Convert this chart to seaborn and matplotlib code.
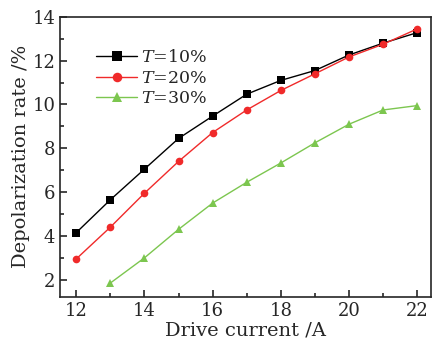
import matplotlib
matplotlib.use("Agg")
import matplotlib.pyplot as plt
import seaborn as sns
import pandas as pd
from matplotlib.ticker import MultipleLocator

current = [12, 13, 14, 15, 16, 17, 18, 19, 20, 21, 22]
t10 = [4.15, 5.65, 7.05, 8.45, 9.47, 10.47, 11.1, 11.55, 12.26, 12.8, 13.28]
t20 = [2.95, 4.4, 5.95, 7.4, 8.72, 9.75, 10.64, 11.4, 12.17, 12.75, 13.45]
current30 = [13, 14, 15, 16, 17, 18, 19, 20, 21, 22]
t30 = [1.85, 3.0, 4.3, 5.5, 6.45, 7.33, 8.25, 9.1, 9.75, 9.95]
labels = ["$T$=10%", "$T$=20%", "$T$=30%"]

sns.set_style("ticks")
plt.rcParams['font.family'] = ['DejaVu Serif']
plt.rcParams['mathtext.fontset'] = 'dejavuserif'

df = pd.concat([
    pd.DataFrame({"x": current, "y": t10, "s": labels[0]}),
    pd.DataFrame({"x": current, "y": t20, "s": labels[1]}),
    pd.DataFrame({"x": current30, "y": t30, "s": labels[2]}),
])

fig = plt.figure(figsize=(4.33, 3.44), dpi=100)
ax = fig.add_axes([0.139, 0.137, 0.856, 0.814])
palette = {labels[0]: "#000000", labels[1]: "#f02a2a", labels[2]: "#7cc64f"}
markers = {labels[0]: "s", labels[1]: "o", labels[2]: "^"}
sns.lineplot(data=df, x="x", y="y", hue="s", style="s", palette=palette,
             markers=markers, dashes=False, markersize=5.5, linewidth=1.0,
             markeredgewidth=0, ax=ax)

ax.set_xlim(11.53, 22.4)
ax.set_ylim(1.22, 14)
ax.xaxis.set_major_locator(MultipleLocator(2))
ax.xaxis.set_minor_locator(MultipleLocator(1))
ax.yaxis.set_major_locator(MultipleLocator(2))
ax.yaxis.set_minor_locator(MultipleLocator(1))
ax.tick_params(which='both', direction='in', labelsize=13, width=1.2)
ax.tick_params(which='major', length=5)
ax.tick_params(which='minor', length=3)
for sp in ax.spines.values():
    sp.set_visible(True)
    sp.set_linewidth(1.2)
ax.set_xlabel("Drive current /A", fontsize=14, labelpad=1)
ax.set_ylabel("Depolarization rate /%", fontsize=14, labelpad=2)

leg = ax.legend(loc="upper left", bbox_to_anchor=(0.077, 0.909), frameon=False,
                fontsize=12.5, handlelength=2.4, handletextpad=0.2,
                labelspacing=0.2, borderaxespad=0, markerscale=1.25)
fig.savefig("out.png", dpi=100)
